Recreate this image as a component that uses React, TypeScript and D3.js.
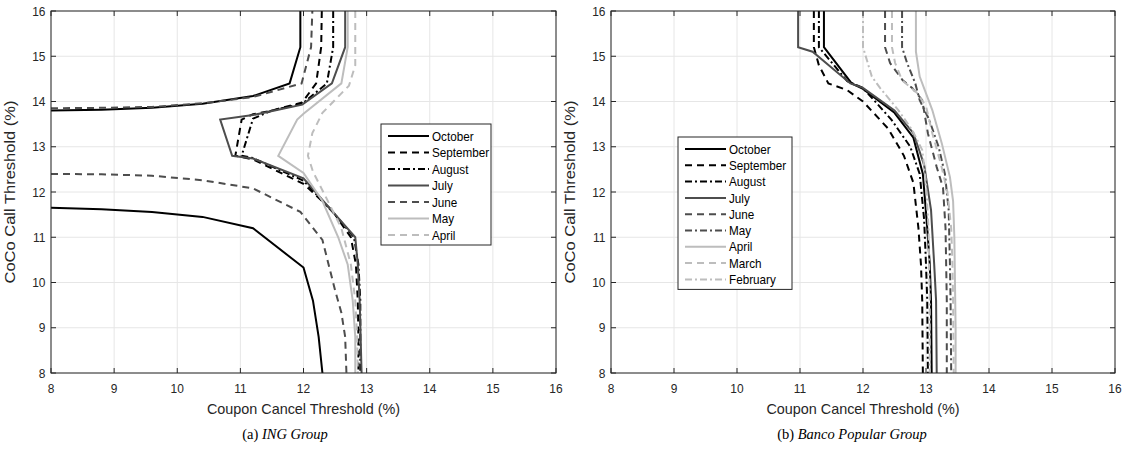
import React from "react";
import * as d3 from "d3";

type Pt = [number, number] | null;

// ---------- DATA ----------
const xTicks = [8, 9, 10, 11, 12, 13, 14, 15, 16];
const yTicks = [8, 9, 10, 11, 12, 13, 14, 15, 16];

const ingNames = ["October", "September", "August", "July", "June", "May", "April"];
const bpNames = ["October", "September", "August", "July", "June", "May", "April", "March", "February"];

// ING Group: [coupon cancel threshold, CoCo call threshold]
const ingOctober: Pt[] = [
  [8, 13.8], [8.8, 13.82], [9.6, 13.86], [10.4, 13.95], [11.2, 14.12], [11.78, 14.4], [11.95, 15.2], [11.95, 16],
  null,
  [8, 11.65], [8.8, 11.62], [9.6, 11.56], [10.4, 11.45], [11.2, 11.2], [12.0, 10.33], [12.15, 9.6], [12.24, 8.8], [12.3, 8],
];
const ingSeptember: Pt[] = [
  [12.29, 16], [12.28, 15.2], [12.2, 14.4], [11.98, 13.98], [11.5, 13.8], [11.2, 13.72], [11.02, 13.6],
  [10.92, 12.8], [11.2, 12.72], [12.0, 12.18], [12.45, 11.6], [12.75, 11.0], [12.83, 10.4], [12.86, 9.6], [12.87, 8.8], [12.87, 8],
];
const ingAugust: Pt[] = [
  [12.47, 16], [12.47, 15.2], [12.37, 14.4], [11.98, 13.95], [11.5, 13.8], [11.2, 13.62],
  [11.02, 12.8], [11.2, 12.75], [12.0, 12.25], [12.5, 11.5], [12.8, 11.0], [12.87, 10.4], [12.9, 9.6], [12.9, 8],
];
const ingJuly: Pt[] = [
  [12.66, 16], [12.66, 15.2], [12.45, 14.4], [11.98, 13.93], [11.2, 13.7], [10.68, 13.6],
  [10.87, 12.8], [11.2, 12.74], [12.0, 12.3], [12.63, 11.3], [12.82, 11.0], [12.86, 10.4], [12.89, 9.6], [12.92, 8],
];
const ingJune: Pt[] = [
  [8, 13.85], [8.8, 13.86], [9.6, 13.88], [10.4, 13.96], [11.2, 14.1], [11.97, 14.4], [12.12, 15.2], [12.14, 16],
  null,
  [8, 12.4], [8.8, 12.39], [9.6, 12.36], [10.4, 12.26], [11.2, 12.08], [11.95, 11.56], [12.3, 10.94],
  [12.5, 9.83], [12.6, 9.33], [12.66, 8.8], [12.68, 8],
];
const ingMay: Pt[] = [
  [12.7, 16], [12.7, 15.2], [12.6, 14.4], [12.0, 13.73], [11.9, 13.6], [11.6, 12.8], [12.0, 12.42],
  [12.3, 11.8], [12.55, 11.0], [12.7, 10.4], [12.78, 9.6], [12.82, 8.8], [12.82, 8],
];
const ingApril: Pt[] = [
  [12.82, 16], [12.82, 14.8], [12.72, 14.35], [12.3, 13.75], [12.14, 13.3], [12.07, 12.8], [12.15, 12.45],
  [12.35, 11.9], [12.6, 11.2], [12.75, 10.4], [12.82, 9.6], [12.85, 8.8], [12.86, 8],
];

// Banco Popular Group
const bpOctober: Pt[] = [
  [11.38, 16], [11.38, 15.2], [11.82, 14.4], [12.0, 14.28], [12.5, 13.75], [12.8, 13.2], [12.95, 12.4],
  [13.02, 11.2], [13.06, 10.4], [13.08, 9.6], [13.09, 8],
];
const bpSeptember: Pt[] = [
  [11.22, 16], [11.22, 15.2], [11.3, 14.8], [11.45, 14.4], [11.75, 14.25], [12.0, 14.0], [12.4, 13.4],
  [12.65, 12.8], [12.8, 12.2], [12.88, 11.2], [12.92, 10.4], [12.94, 9.6], [12.95, 8],
];
const bpAugust: Pt[] = [
  [11.3, 16], [11.3, 15.2], [11.75, 14.45], [12.0, 14.3], [12.45, 13.6], [12.75, 13.0], [12.9, 12.4],
  [12.97, 11.4], [13.0, 10.4], [13.02, 9.6], [13.03, 8],
];
const bpJuly: Pt[] = [
  [10.97, 16], [10.97, 15.2], [11.2, 15.1], [11.8, 14.4], [12.0, 14.3], [12.5, 13.8], [12.8, 13.3],
  [12.97, 12.6], [13.08, 11.6], [13.13, 10.4], [13.16, 9.6], [13.17, 8],
];
const bpJune: Pt[] = [
  [12.35, 16], [12.35, 15.2], [12.43, 14.85], [12.63, 14.47], [12.78, 14.3], [12.94, 14.03], [13.03, 13.3],
  [13.17, 12.55], [13.27, 12.1], [13.31, 11.2], [13.32, 10.4], [13.33, 9.6], [13.33, 8],
];
const bpMay: Pt[] = [
  [12.62, 16], [12.62, 15.2], [12.7, 14.85], [12.83, 14.4], [12.9, 14.03], [13.05, 13.6], [13.2, 13.0],
  [13.3, 12.4], [13.36, 11.6], [13.38, 10.4], [13.39, 9.6], [13.4, 8],
];
const bpApril: Pt[] = [
  [12.84, 16], [12.84, 15.1], [12.9, 14.55], [13.1, 13.81], [13.25, 13.08], [13.38, 12.33], [13.43, 11.8],
  [13.45, 11.0], [13.46, 10.0], [13.47, 9.0], [13.47, 8],
];
const bpMarch: Pt[] = [
  [12.46, 16], [12.46, 15.2], [12.51, 14.85], [12.62, 14.47], [12.85, 14.2], [13.0, 13.9], [13.1, 13.3],
  [13.24, 12.6], [13.34, 12.0], [13.4, 11.2], [13.42, 10.4], [13.43, 9.6], [13.44, 8],
];
const bpFebruary: Pt[] = [
  [12.0, 16], [12.0, 15.2], [12.14, 14.55], [12.27, 14.3], [12.56, 13.81], [12.78, 13.37], [12.94, 12.93],
  [13.0, 12.2], [13.04, 11.2], [13.05, 10.4], [13.06, 9.6], [13.06, 8],
];

const ingData: Pt[][] = [ingOctober, ingSeptember, ingAugust, ingJuly, ingJune, ingMay, ingApril];
const bpData: Pt[][] = [bpOctober, bpSeptember, bpAugust, bpJuly, bpJune, bpMay, bpApril, bpMarch, bpFebruary];

// ---------- STYLES ----------
const BLACK = "#000000";
const DARK = "#4d4d4d";
const LIGHT = "#bdbdbd";
const SOLID = "";
const DASH = "7,5";
const DASHDOT = "7,3,2,3";

const ingStyles = [
  { c: BLACK, d: SOLID }, { c: BLACK, d: DASH }, { c: BLACK, d: DASHDOT },
  { c: DARK, d: SOLID }, { c: DARK, d: DASH }, { c: LIGHT, d: SOLID }, { c: LIGHT, d: DASH },
];
const bpStyles = [
  { c: BLACK, d: SOLID }, { c: BLACK, d: DASH }, { c: BLACK, d: DASHDOT },
  { c: DARK, d: SOLID }, { c: DARK, d: DASH }, { c: DARK, d: DASHDOT },
  { c: LIGHT, d: SOLID }, { c: LIGHT, d: DASH }, { c: LIGHT, d: DASHDOT },
];

const FONT = "'Liberation Sans', Arial, Helvetica, sans-serif";
const AXIS = "#262626";

// text with a slight horizontal condensation (figure was squeezed horizontally)
function T(props: {
  x: number;
  y: number;
  size: number;
  sx: number;
  anchor?: "start" | "middle" | "end";
  fill?: string;
  children: React.ReactNode;
}) {
  return (
    <g transform={`translate(${props.x},${props.y}) scale(${props.sx},1)`}>
      <text x={0} y={0} textAnchor={props.anchor || "start"} fontSize={props.size} fill={props.fill || AXIS} fontFamily={FONT}>
        {props.children}
      </text>
    </g>
  );
}

type PanelProps = {
  id: string;
  x0: number;
  x1: number;
  y0: number;
  y1: number;
  data: Pt[][];
  names: string[];
  styles: { c: string; d: string }[];
  legend: { x: number; y: number; w: number; rowH: number };
  captionX: number;
  captionPrefix: string;
  caption: string;
};

function Panel(p: PanelProps) {
  const xs = d3.scaleLinear().domain([8, 16]).range([p.x0, p.x1]);
  const ys = d3.scaleLinear().domain([8, 16]).range([p.y1, p.y0]);
  const line = d3
    .line<Pt>()
    .defined((d) => d !== null)
    .x((d) => xs((d as [number, number])[0]))
    .y((d) => ys((d as [number, number])[1]));
  const tk = 5;
  const cx = (p.x0 + p.x1) / 2;
  const cy = (p.y0 + p.y1) / 2;
  const legH = (p.names.length - 1) * p.legend.rowH + 22;
  return (
    <g>
      <defs>
        <clipPath id={p.id}>
          <rect x={p.x0} y={p.y0} width={p.x1 - p.x0} height={p.y1 - p.y0} />
        </clipPath>
      </defs>
      <rect x={p.x0} y={p.y0} width={p.x1 - p.x0} height={p.y1 - p.y0} fill="#fff" />
      {xTicks.map((t) => (
        <line key={"gx" + t} x1={xs(t)} x2={xs(t)} y1={p.y0} y2={p.y1} stroke="#e6e6e6" strokeWidth={1} />
      ))}
      {yTicks.map((t) => (
        <line key={"gy" + t} x1={p.x0} x2={p.x1} y1={ys(t)} y2={ys(t)} stroke="#e6e6e6" strokeWidth={1} />
      ))}
      <g clipPath={`url(#${p.id})`}>
        {p.data.map((s, i) => (
          <path
            key={i}
            d={line(s) || ""}
            fill="none"
            stroke={p.styles[i].c}
            strokeWidth={2}
            strokeDasharray={p.styles[i].d || undefined}
            strokeLinejoin="miter"
          />
        ))}
      </g>
      <rect x={p.x0} y={p.y0} width={p.x1 - p.x0} height={p.y1 - p.y0} fill="none" stroke={AXIS} strokeWidth={1} />
      {xTicks.map((t) => (
        <g key={"tx" + t}>
          <line x1={xs(t)} x2={xs(t)} y1={p.y1} y2={p.y1 - tk} stroke={AXIS} />
          <line x1={xs(t)} x2={xs(t)} y1={p.y0} y2={p.y0 + tk} stroke={AXIS} />
          <T x={xs(t)} y={p.y1 + 20} size={13} sx={0.92} anchor="middle">
            {t}
          </T>
        </g>
      ))}
      {yTicks.map((t) => (
        <g key={"ty" + t}>
          <line x1={p.x0} x2={p.x0 + tk} y1={ys(t)} y2={ys(t)} stroke={AXIS} />
          <line x1={p.x1} x2={p.x1 - tk} y1={ys(t)} y2={ys(t)} stroke={AXIS} />
          <T x={p.x0 - 5.5} y={ys(t) + 4.7} size={13} sx={0.92} anchor="end">
            {t}
          </T>
        </g>
      ))}
      <T x={cx} y={p.y1 + 41} size={15} sx={0.96} anchor="middle">
        Coupon Cancel Threshold (%)
      </T>
      <g transform={`translate(${p.x0 - 36},${cy}) scale(0.92,1) rotate(-90)`}>
        <text x={0} y={0} textAnchor="middle" fontSize={16.5} fill={AXIS} fontFamily={FONT}>
          CoCo Call Threshold (%)
        </text>
      </g>
      <g>
        <rect x={p.legend.x} y={p.legend.y} width={p.legend.w} height={legH} fill="#fff" stroke={AXIS} strokeWidth={1} />
        {p.names.map((n, i) => {
          const ry = p.legend.y + 12 + i * p.legend.rowH;
          return (
            <g key={n}>
              <line
                x1={p.legend.x + 7}
                x2={p.legend.x + 48}
                y1={ry}
                y2={ry}
                stroke={p.styles[i].c}
                strokeWidth={2}
                strokeDasharray={p.styles[i].d || undefined}
              />
              <T x={p.legend.x + 51} y={ry + 4.6} size={13} sx={0.9} fill="#000">
                {n}
              </T>
            </g>
          );
        })}
      </g>
      <text x={p.captionX} y={p.y1 + 66} textAnchor="middle" fontSize={14.5} fill="#000" fontFamily="'Liberation Serif', 'DejaVu Serif', serif">
        {p.captionPrefix}
        <tspan fontStyle="italic">{p.caption}</tspan>
      </text>
    </g>
  );
}

export default function App() {
  return (
    <div style={{ position: "fixed", left: 0, top: 0 }}>
      <svg width={1124} height={450} style={{ display: "block", background: "#fff" }}>
        <rect width={1124} height={450} fill="#fff" />
        <Panel
          id="clipA"
          x0={51}
          x1={556}
          y0={11}
          y1={373}
          data={ingData}
          names={ingNames}
          styles={ingStyles}
          legend={{ x: 381, y: 124, w: 110, rowH: 16.5 }}
          captionX={285}
          captionPrefix="(a) "
          caption="ING Group"
        />
        <Panel
          id="clipB"
          x0={611}
          x1={1115}
          y0={11}
          y1={373}
          data={bpData}
          names={bpNames}
          styles={bpStyles}
          legend={{ x: 678, y: 137, w: 114, rowH: 16.3 }}
          captionX={852}
          captionPrefix="(b) "
          caption="Banco Popular Group"
        />
      </svg>
    </div>
  );
}
